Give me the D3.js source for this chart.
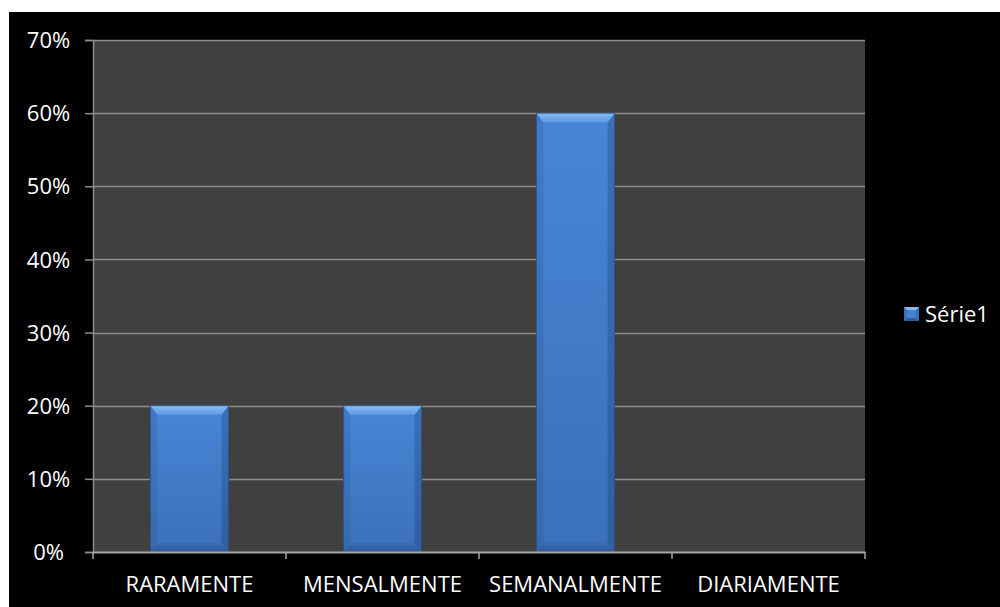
<!DOCTYPE html>
<html>
<head>
<meta charset="utf-8">
<script src="https://cdn.jsdelivr.net/npm/d3@7"></script>
<style>
  html, body { margin: 0; padding: 0; background: #ffffff; }
  svg { display: block; }
  text { font-family: "Open Sans", "DejaVu Sans", sans-serif; fill: #ffffff; }
</style>
</head>
<body>
<svg id="chart" width="1000" height="607"></svg>
<script>
// Frequency categories and their shares
const categories = ["RARAMENTE", "MENSALMENTE", "SEMANALMENTE", "DIARIAMENTE"];
const values = [0.20, 0.20, 0.60, 0.00];
const seriesName = "Série1";
const yTicks = [0, 0.1, 0.2, 0.3, 0.4, 0.5, 0.6, 0.7];

const svg = d3.select("#chart");
const W = 1000, H = 607;

// Black chart area
svg.append("rect").attr("x", 9).attr("y", 12).attr("width", W - 9).attr("height", H - 12).attr("fill", "#000");

const plot = { left: 93, right: 865, top: 40, bottom: 552 };

const x = d3.scaleBand().domain(categories).range([plot.left, plot.right]).paddingInner(0).paddingOuter(0);
const y = d3.scaleLinear().domain([0, 0.7]).range([plot.bottom, plot.top]);

// Gradients for the bevelled bars
const defs = svg.append("defs");
function vGrad(id, c0, c1) {
  const g = defs.append("linearGradient").attr("id", id).attr("x1", 0).attr("y1", 0).attr("x2", 0).attr("y2", 1);
  g.append("stop").attr("offset", "0%").attr("stop-color", c0);
  g.append("stop").attr("offset", "100%").attr("stop-color", c1);
}
vGrad("barFace", "#4886d6", "#3b70ba");
vGrad("barTop", "#86bdf3", "#5d9ae3");
vGrad("barBottom", "#3a6bb0", "#30599a");
vGrad("barLeft", "#4079c6", "#366aae");
vGrad("barRight", "#3a70b9", "#2f5e9e");

// Plot background
svg.append("rect")
  .attr("x", plot.left).attr("y", plot.top)
  .attr("width", plot.right - plot.left).attr("height", plot.bottom - plot.top)
  .attr("fill", "#404040");

// Horizontal gridlines
svg.append("g").selectAll("line").data(yTicks.filter(d => d > 0)).join("line")
  .attr("x1", plot.left).attr("x2", plot.right)
  .attr("y1", d => Math.round(y(d)) + 0.5).attr("y2", d => Math.round(y(d)) + 0.5)
  .attr("stroke", "#8c8c8c").attr("stroke-width", 1.5);

// Bars
const barW = x.bandwidth() * 0.405;
const bars = svg.append("g").selectAll("g").data(categories.map((c, i) => ({ c, v: values[i] })).filter(d => d.v > 0)).join("g");
bars.each(function (d) {
  const gEl = d3.select(this);
  const x0 = x(d.c) + (x.bandwidth() - barW) / 2;
  const x1 = x0 + barW;
  const y0 = y(d.v);
  const y1 = y(0);
  const b = 9, s = 7;
  gEl.append("rect").attr("x", x0).attr("y", y0).attr("width", barW).attr("height", y1 - y0).attr("fill", "url(#barFace)");
  // side bevels
  gEl.append("polygon").attr("points", [[x0, y0], [x0 + s, y0 + b], [x0 + s, y1 - b], [x0, y1]].join(" "))
    .attr("fill", "url(#barLeft)");
  gEl.append("polygon").attr("points", [[x1, y0], [x1 - s, y0 + b], [x1 - s, y1 - b], [x1, y1]].join(" "))
    .attr("fill", "url(#barRight)");
  // top bevel
  gEl.append("polygon").attr("points", [[x0, y0], [x1, y0], [x1 - s, y0 + b], [x0 + s, y0 + b]].join(" "))
    .attr("fill", "url(#barTop)");
  // bottom bevel
  gEl.append("polygon").attr("points", [[x0, y1], [x1, y1], [x1 - s, y1 - b], [x0 + s, y1 - b]].join(" "))
    .attr("fill", "url(#barBottom)");
  gEl.append("rect").attr("x", x0).attr("y", y0).attr("width", barW).attr("height", y1 - y0)
    .attr("fill", "none").attr("stroke", "#2a4c7a").attr("stroke-width", 1).attr("stroke-opacity", 0.8);
});

// Y axis
const yAxis = d3.axisLeft(y).tickValues(yTicks).tickFormat(d3.format(".0%")).tickSize(8).tickPadding(0);
const yg = svg.append("g").attr("transform", `translate(${plot.left},0)`).call(yAxis);
yg.select(".domain").attr("stroke", "#8c8c8c").attr("stroke-width", 1.5);
yg.selectAll(".tick line").attr("stroke", "#8c8c8c").attr("stroke-width", 1.5);
yg.selectAll(".tick text")
  .attr("x", 48.5 - plot.left).attr("text-anchor", "middle").attr("dy", "0.35em")
  .style("font-size", "22px").attr("fill", "#ffffff");

// X axis
const xAxis = d3.axisBottom(x).tickSize(0).tickPadding(0);
const xg = svg.append("g").attr("transform", `translate(0,${plot.bottom})`).call(xAxis);
xg.select(".domain").attr("stroke", "#a6a6a6").attr("stroke-width", 2);
xg.selectAll(".tick text").attr("y", 40).attr("dy", 0).style("font-size", "22px").attr("fill", "#ffffff");
// category boundary ticks
const bounds = categories.map(c => x(c)).concat([x(categories[categories.length - 1]) + x.bandwidth()]);
xg.append("g").selectAll("line").data(bounds).join("line")
  .attr("x1", d => d).attr("x2", d => d).attr("y1", 0).attr("y2", 7)
  .attr("stroke", "#a6a6a6").attr("stroke-width", 1.5);

// Legend
const lg = svg.append("g").attr("transform", "translate(904,307)");
lg.append("rect").attr("width", 15).attr("height", 14).attr("fill", "#3b70ba");
lg.append("polygon").attr("points", "0,0 15,0 7.5,7").attr("fill", "#86bdf3");
lg.append("polygon").attr("points", "0,14 15,14 7.5,7").attr("fill", "#30599a");
lg.append("rect").attr("x", 3).attr("y", 3).attr("width", 9).attr("height", 8).attr("fill", "#4680d0");
lg.append("text").attr("x", 21).attr("y", 15).style("font-size", "22px").text(seriesName);
</script>
</body>
</html>
